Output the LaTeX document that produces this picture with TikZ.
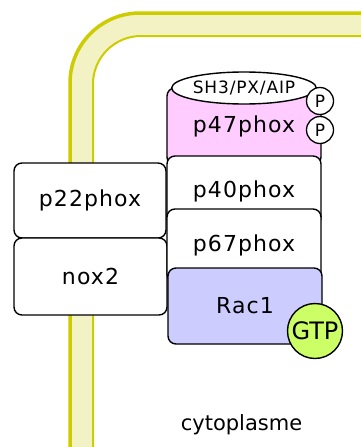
\documentclass[tikz,border=0pt]{standalone}
\usepackage{fontspec}
\setmainfont{DejaVu Sans}
\usepackage{tikz}
\usetikzlibrary{shapes}

\definecolor{membraneline}{HTML}{CCCC00}
\definecolor{membranefill}{HTML}{F2F2C4}
\definecolor{phoxpink}{HTML}{FFCCFF}
\definecolor{racblue}{HTML}{CCCCFF}
\definecolor{gtpgreen}{HTML}{CCFF66}

\tikzset{
    protein/.style={draw, line width=1.4pt, rounded corners=8pt, fill=white,
        inner sep=0pt, font=\fontsize{22}{24}\selectfont\addfontfeatures{LetterSpace=5}},
    phospho/.style={draw, circle, line width=1.3pt, fill=white, inner sep=0pt,
        minimum size=27pt, font=\fontsize{17}{19}\selectfont}
}

\begin{document}
\begin{tikzpicture}[x=1pt, y=-1pt]
        \useasboundingbox (0,0) rectangle (360,447);

        % membrane
        \draw[membranefill, line width=23pt, rounded corners=59pt] (81.5,460) -- (81.5,24.5) -- (380,24.5);
        \draw[membraneline, line width=3.5pt, rounded corners=70pt] (70,460) -- (70,13) -- (380,13);
        \draw[membraneline, line width=2pt, rounded corners=48pt] (93,460) -- (93,36) -- (380,36);

        % membrane proteins
        \node (p22phox) at (90,200.5) [protein, minimum width=152pt, minimum height=75pt] {p22phox};
        \node (nox2) at (90.5,276.5) [protein, minimum width=153pt, minimum height=77pt] {nox2};

        % cytosolic proteins
        \node (p47phox) at (244,126.5) [protein, fill=phoxpink, minimum width=154pt, minimum height=77pt] {p47phox};
        \node (p40phox) at (244,191) [protein, minimum width=154pt, minimum height=70pt] {p40phox};
        \node (p67phox) at (244,245.5) [protein, minimum width=154pt, minimum height=73pt] {p67phox};
        \node (rac1) at (245,306) [protein, fill=racblue, minimum width=154pt, minimum height=76pt] {Rac1};

        \node (domains) at (244,88) [draw, ellipse, line width=1.4pt, fill=white, inner sep=0pt,
            minimum width=136pt, minimum height=32pt,
            font=\fontsize{17}{19}\selectfont\addfontfeatures{LetterSpace=5}] {SH3/PX/AIP};
        \node (phos1) at (320,101) [phospho] {P};
        \node (phos2) at (320,130) [phospho] {P};

        \node (gtp) at (315,331) [draw, circle, line width=1.4pt, fill=gtpgreen, inner sep=0pt,
            minimum size=55pt, font=\fontsize{24}{26}\selectfont] {GTP};

        \node (cytoplasme) at (241.5,425) [font=\fontsize{21}{24}\selectfont] {cytoplasme};
    \end{tikzpicture}
\end{document}
